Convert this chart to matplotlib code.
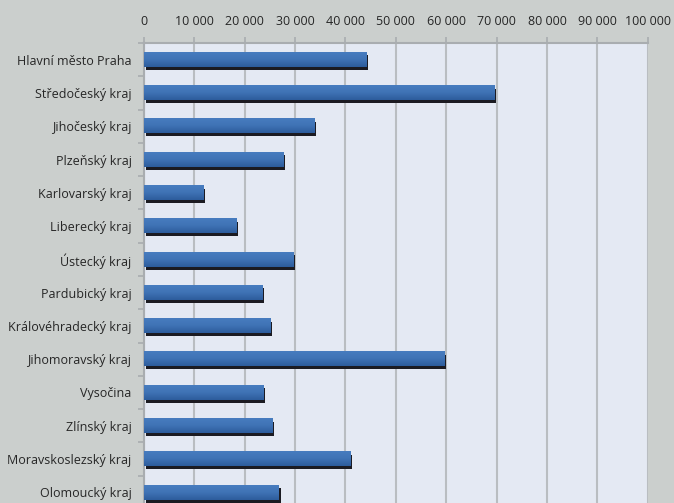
import numpy as np
from matplotlib import pyplot as plt
from matplotlib.colors import LinearSegmentedColormap
from matplotlib.ticker import FuncFormatter

regions = ['Hlavní město Praha', 'Středočeský kraj', 'Jihočeský kraj', 'Plzeňský kraj',
           'Karlovarský kraj', 'Liberecký kraj', 'Ústecký kraj', 'Pardubický kraj',
           'Královéhradecký kraj', 'Jihomoravský kraj', 'Vysočina', 'Zlínský kraj',
           'Moravskoslezský kraj', 'Olomoucký kraj']
values = [44100, 69600, 33800, 27600, 11900, 18300, 29600, 23600,
          25200, 59600, 23800, 25600, 41000, 26800]
xticks = np.arange(0, 100001, 10000)

plt.rcParams['font.family'] = ['Open Sans', 'DejaVu Sans']

fig = plt.figure(figsize=(6.74, 5.03), dpi=100, facecolor='#cbcfcd')
# plot area runs a bit past the lower edge of the picture
ax = fig.add_axes([144/674, (503-509)/503, (647.7-144)/674, (509-43)/503])
ax.set_facecolor('#e4e9f3')

n = len(regions)
ypos = np.arange(n)[::-1]
h = 0.43
grad_cmap = LinearSegmentedColormap.from_list('barblue', ['#477cbf', '#3f73b5', '#2d5d9c'])
grad = np.linspace(0, 1, 32).reshape(-1, 1)

for y, v in zip(ypos, values):
    # dark drop shadow, nudged right and down
    ax.add_patch(plt.Rectangle((300, y - h/2 - 0.09), v, h, color='#1b1b22', zorder=2, lw=0))
    ax.imshow(grad, cmap=grad_cmap, aspect='auto', origin='upper',
              extent=(0, v, y - h/2, y + h/2), zorder=3, interpolation='bilinear')

ax.set_xlim(0, 100000)
ax.set_ylim(-0.5, n - 0.5)
ax.set_xticks(xticks)
ax.xaxis.set_major_formatter(FuncFormatter(lambda x, p: '{:,.0f}'.format(x).replace(',', ' ')))
ax.xaxis.tick_top()
ax.tick_params(axis='x', length=4, width=1.2, color='#a9adb0', pad=7, labelsize=9,
               labelcolor='#262626')
ax.set_yticks(ypos)
ax.set_yticklabels(regions)
ax.set_yticks(np.arange(n + 1) - 0.5, minor=True)
ax.tick_params(axis='y', which='major', length=0, pad=9, labelsize=9, labelcolor='#262626')
ax.tick_params(axis='y', which='minor', length=4, width=1.2, color='#a9adb0')
ax.grid(axis='x', color='#b9bdc1', lw=1.5, zorder=1)
ax.set_axisbelow(True)
for s in ['right', 'bottom']:
    ax.spines[s].set_visible(False)
ax.spines['top'].set_color('#a9adb0')
ax.spines['left'].set_color('#a9adb0')
ax.spines['top'].set_linewidth(1.5)
ax.spines['left'].set_linewidth(1.5)

fig.savefig('out.png', dpi=100, facecolor=fig.get_facecolor())
